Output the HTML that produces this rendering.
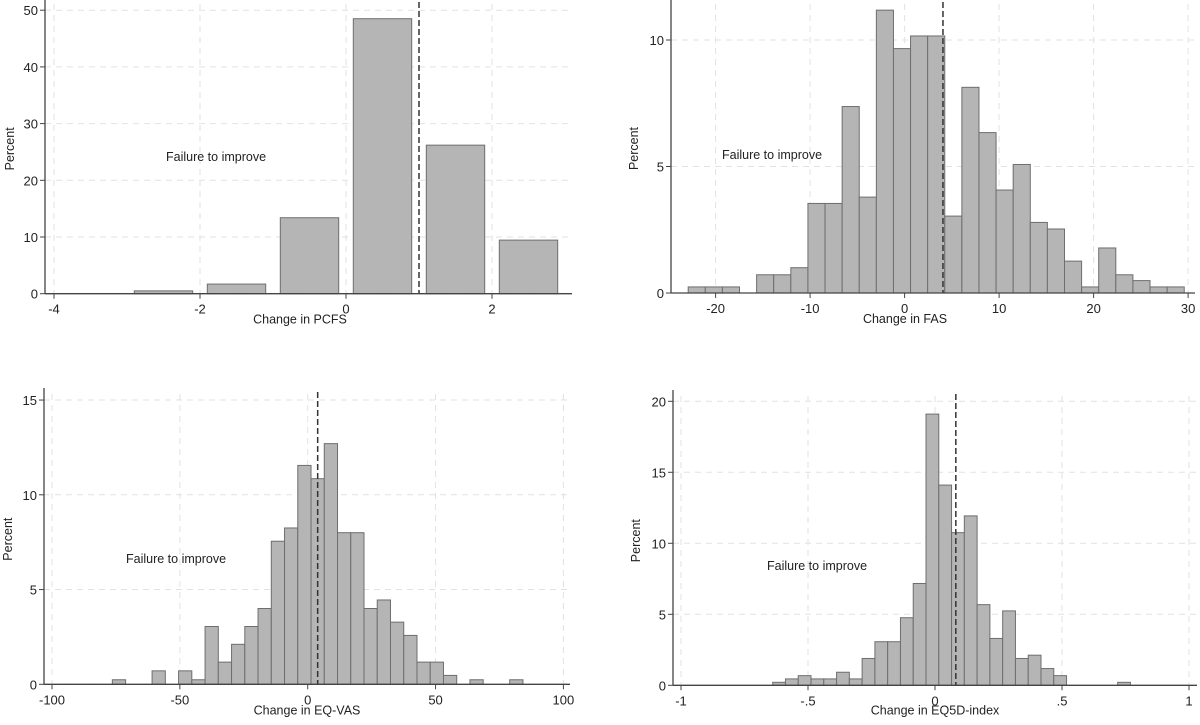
<!DOCTYPE html>
<html><head><meta charset="utf-8"><style>
body{margin:0;background:#fff;}
svg{display:block;font-family:"Liberation Sans",sans-serif;}
</style></head><body>
<svg id="c" width="1200" height="725"></svg>
<script>
// Panel 1: PCFS (bar centers, width 0.8)
const pcfsCenters=[-2.5,-1.5,-0.5,0.5,1.5,2.5];
const pcfsValues=[0.5,1.7,13.4,48.5,26.2,9.45];
const pcfsXTicks=[-4,-2,0,2];
const pcfsYTicks=[0,10,20,30,40,50];
const pcfsCut=1.0;
// Panel 2: FAS
const fasStart=-22.9, fasWidth=1.81;
const fasValues=[0.24,0.24,0.24,0,0.72,0.72,1.0,3.54,3.54,7.37,3.79,11.18,9.66,10.16,10.16,3.04,8.13,6.34,4.07,5.08,2.79,2.53,1.26,0.24,1.78,0.72,0.49,0.24,0.24];
const fasXTicks=[-20,-10,0,10,20,30];
const fasYTicks=[0,5,10];
const fasCut=4.06;
// Panel 3: EQ-VAS
const vasStart=-76.4, vasWidth=5.18;
const vasValues=[0.24,0,0,0.71,0,0.71,0.24,3.05,1.17,2.11,3.05,4.0,7.55,8.25,11.55,10.85,12.7,8.0,8.0,4.0,4.45,3.28,2.58,1.17,1.17,0.47,0,0.24,0,0,0.24];
const vasXTicks=[-100,-50,0,50,100];
const vasYTicks=[0,5,10,15];
const vasCut=3.9;
// Panel 4: EQ5D-index
const eqStart=-0.639, eqWidth=0.0503;
const eqValues=[0.21,0.45,0.68,0.45,0.45,0.92,0.45,1.89,3.07,3.07,4.76,7.17,19.1,14.1,10.75,11.93,5.68,3.3,5.24,1.89,2.12,1.18,0.68,0,0,0,0,0.21];
const eqXTicks=[-1,-0.5,0,0.5,1];
const eqXTickLabels=["-1","-.5","0",".5","1"];
const eqYTicks=[0,5,10,15,20];
const eqCut=0.082;

const NS="http://www.w3.org/2000/svg";
const svg=document.getElementById('c');
function mk(tag,attrs,parent){const e=document.createElementNS(NS,tag);for(const k in attrs)e.setAttribute(k,attrs[k]);(parent||svg).appendChild(e);return e;}

function panel(p){
  const g=mk('g',{});
  
  
  const sx=v=>p.x0+v*p.ppu, sy=v=>p.base-v*p.ypu;
  p.xt.forEach(v=>{const l=mk('line',{x1:sx(v),x2:sx(v),y1:p.top,y2:p.base,stroke:'#e2e2e2','stroke-dasharray':'6,5','stroke-width':1},g);
    });
  p.yt.forEach(v=>{const l=mk('line',{x1:p.ax,x2:p.end,y1:sy(v),y2:sy(v),stroke:'#e2e2e2','stroke-dasharray':'6,5','stroke-width':1},g);
    });
  p.bars.forEach(b=>{if(b.h<=0)return;
    const r=mk('rect',{x:sx(b.a),y:sy(b.h),width:sx(b.b)-sx(b.a),height:sy(0)-sy(b.h),fill:'#b5b5b5',stroke:'#6e6e6e','stroke-width':1},g);
    });
  const c=mk('line',{x1:sx(p.cut),x2:sx(p.cut),y1:p.top-2,y2:p.base,stroke:'#333','stroke-dasharray':'6,3','stroke-width':1.5},g);
  
  const ya=mk('line',{x1:p.ax,x2:p.ax,y1:p.top-6,y2:p.base,stroke:'#444','stroke-width':1.3},g);
  
  const xa=mk('line',{x1:p.ax,x2:p.end,y1:p.base,y2:p.base,stroke:'#444','stroke-width':1.3},g);
  
  p.xt.forEach((v,i)=>{mk('line',{x1:sx(v),x2:sx(v),y1:p.base,y2:p.base+5,stroke:'#444'},g);
    const t=mk('text',{x:sx(v),y:p.base+20,'text-anchor':'middle','font-size':13,fill:'#222'},g);
    t.textContent=p.xl?p.xl[i]:String(v);
    });
  p.yt.forEach(v=>{mk('line',{x1:p.ax-5,x2:p.ax,y1:sy(v),y2:sy(v),stroke:'#444'},g);
    const t=mk('text',{x:p.ax-7,y:sy(v)+5,'text-anchor':'end','font-size':13,fill:'#222'},g);
    t.textContent=String(v);
    });
  const xt=mk('text',{x:p.tx,y:p.base+p.tOff,'text-anchor':'middle','font-size':12.5,fill:'#222'},g);
  xt.textContent=p.title;
  const yt=mk('text',{x:0,y:0,'text-anchor':'middle','font-size':12.5,fill:'#222',transform:`translate(${p.yx},${(p.top+p.base)/2}) rotate(-90)`},g);
  yt.textContent='Percent';
  const an=mk('text',{x:p.fx,y:p.fy,'font-size':12.5,fill:'#222'},g);
  an.textContent='Failure to improve';
}
const binBars=(s,w,vals)=>vals.map((h,i)=>({a:s+i*w,b:s+(i+1)*w,h:h}));

panel({name:'pcfs-panel',x0:346,ppu:73,base:293.7,ypu:5.67,top:4,ax:45,end:572,xt:pcfsXTicks,yt:pcfsYTicks,
  bars:pcfsCenters.map((c,i)=>({a:c-0.4,b:c+0.4,h:pcfsValues[i]})),cut:pcfsCut,title:'Change in PCFS',tx:300,tOff:30,yx:14,fx:166,fy:161});
panel({name:'fas-panel',x0:904.6,ppu:9.45,base:293,ypu:25.3,top:4,ax:671,end:1195,xt:fasXTicks,yt:fasYTicks,
  bars:binBars(fasStart,fasWidth,fasValues),cut:fasCut,title:'Change in FAS',tx:905,tOff:30,yx:638,fx:722,fy:159});
panel({name:'eq-vas-panel',x0:307.7,ppu:2.557,base:684.3,ypu:18.95,top:394,ax:44,end:570,xt:vasXTicks,yt:vasYTicks,
  bars:binBars(vasStart,vasWidth,vasValues),cut:vasCut,title:'Change in EQ-VAS',tx:307,tOff:30,yx:12,fx:126,fy:563});
panel({name:'eq5d-index-panel',x0:935,ppu:254,base:685.3,ypu:14.2,top:396,ax:673,end:1197,xt:eqXTicks,xl:eqXTickLabels,yt:eqYTicks,
  bars:binBars(eqStart,eqWidth,eqValues),cut:eqCut,title:'Change in EQ5D-index',tx:935,tOff:29,yx:640,fx:767,fy:570});
</script>
</body></html>
